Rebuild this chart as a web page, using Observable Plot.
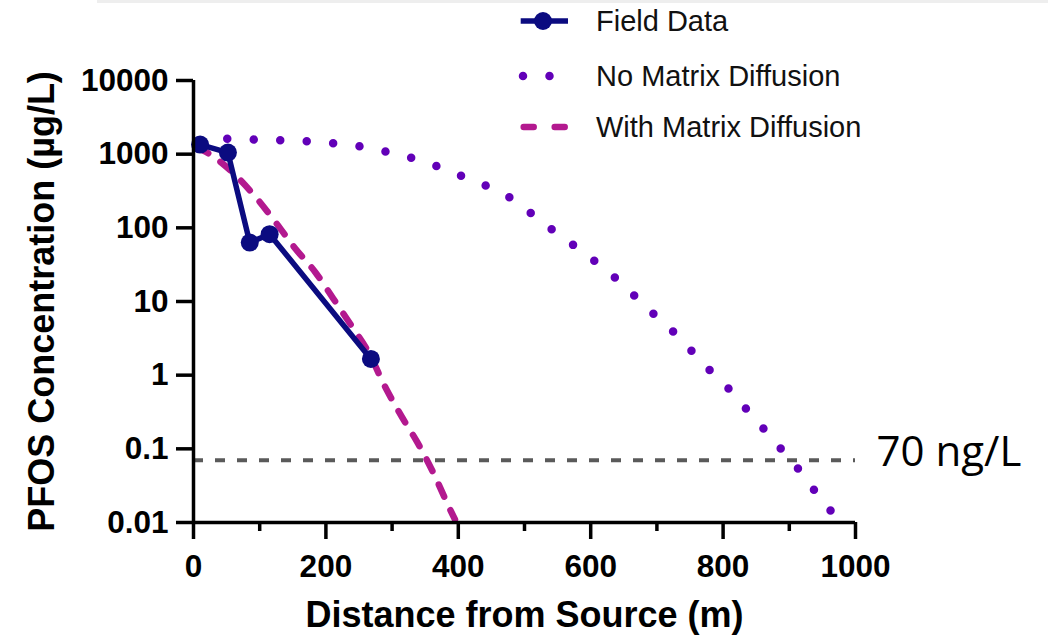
<!DOCTYPE html>
<html>
<head>
<meta charset="utf-8">
<script src="https://cdn.jsdelivr.net/npm/d3@7"></script>
<script src="https://cdn.jsdelivr.net/npm/@observablehq/plot@0.6"></script>
<style>
  body { margin: 0; background: #fff; }
  #wrap { position: relative; width: 1048px; height: 638px; overflow: hidden; font-family: "Liberation Sans", Arial, sans-serif; background:#fff; }
  #chart { position: absolute; left: 0; top: 0; }
  #topline { position: absolute; left: 97px; top: 0; width: 951px; height: 3px; background: #eeeeee; }
  #legend { position: absolute; left: 518px; top: 0; width: 400px; height: 150px; }
  .item { position: absolute; left: 0; height: 40px; display: flex; align-items: center; white-space: nowrap; font-size: 29px; color: #111; }
  .item svg { width: 56px; height: 24px; margin-right: 22px; flex: none; }
</style>
</head>
<body>
<div id="wrap">
  <div id="topline"></div>
  <div id="chart"></div>
  <div id="legend"></div>
</div>
<script>
// ---- Data ----
const fieldDistance = [10, 52, 85, 115, 268];              // m
const fieldConc     = [1350, 1050, 63, 82, 1.66];          // µg/L

const noMatrixDistance = [51, 91, 130, 170, 210, 251, 290, 329, 367, 404, 443, 476, 509, 540, 573, 605, 636, 665, 694, 724, 752, 779, 808, 834, 861, 887, 913, 937, 962, 972];
const noMatrixConc     = [1620, 1580, 1550, 1500, 1410, 1280, 1090, 890, 690, 510, 370, 264, 160, 97, 59, 36, 21.4, 12.2, 6.9, 3.95, 2.16, 1.19, 0.66, 0.356, 0.189, 0.101, 0.054, 0.028, 0.0147, 0.0112];

const withMatrixDistance = [5, 23, 56, 94, 124, 154, 184, 211, 240, 263, 290, 315, 338, 363, 386, 395];
const withMatrixConc     = [1250, 1020, 600, 261, 119, 52, 25, 11, 4.48, 2.16, 0.68, 0.269, 0.123, 0.0458, 0.0161, 0.011];

const thresholdConc  = 0.07;          // 70 ng/L
const thresholdLabel = "70 ng/L";

const yTicks      = [0.01, 0.1, 1, 10, 100, 1000, 10000];
const yTickLabels = ["0.01", "0.1", "1", "10", "100", "1000", "10000"];
const xTicks      = [0, 200, 400, 600, 800, 1000];
const xTickLabels = ["0", "200", "400", "600", "800", "1000"];
const xMinorTicks = [100, 300, 500, 700, 900];

const seriesNames = ["Field Data", "No Matrix Diffusion", "With Matrix Diffusion"];
const xLabel = "Distance from Source (m)";
const yLabel = "PFOS Concentration (µg/L)";

// ---- Styles ----
const navy = "#0b0b80", purple = "#6200b8", magenta = "#b3198f", grey = "#5a5a5a";

const field = fieldDistance.map((d, i) => ({x: d, y: fieldConc[i]}));
const noMatrix = noMatrixDistance.map((d, i) => ({x: d, y: noMatrixConc[i]}));
const withMatrix = withMatrixDistance.map((d, i) => ({x: d, y: withMatrixConc[i]}));

const bold = {fontWeight: "bold"};
const chart = Plot.plot({
  width: 1048, height: 638,
  marginLeft: 193, marginRight: 193, marginTop: 80, marginBottom: 116,
  style: {fontFamily: '"Liberation Sans", Arial, sans-serif', color: "#000", background: "transparent", overflow: "visible"},
  x: {domain: [0, 1000]},
  y: {type: "log", domain: [0.01, 10000]},
  marks: [
    Plot.ruleY([thresholdConc], {stroke: grey, strokeWidth: 4, strokeDasharray: "10 12"}),
    Plot.text([thresholdConc], {y: d => d, text: () => thresholdLabel, frameAnchor: "right", dx: 21, dy: -8,
      textAnchor: "start", lineAnchor: "middle", fontFamily: '"Open Sans", sans-serif', fontSize: 42, fill: "#000"}),
    Plot.line(noMatrix, {x: "x", y: "y", curve: "monotone-x", stroke: purple, strokeWidth: 8.5,
      strokeDasharray: "0 26.5", strokeLinecap: "round"}),
    Plot.line(withMatrix, {x: "x", y: "y", curve: "monotone-x", stroke: magenta, strokeWidth: 6.5,
      strokeDasharray: "13 15", strokeLinecap: "round"}),
    Plot.line(field, {x: "x", y: "y", stroke: navy, strokeWidth: 5.5, strokeLinejoin: "round"}),
    Plot.dot(field, {x: "x", y: "y", r: 9, fill: navy}),
    // axis lines
    Plot.ruleX([0], {stroke: "#000", strokeWidth: 3.5}),
    Plot.ruleY([0.01], {stroke: "#000", strokeWidth: 3.5}),
    // y axis
    Plot.axisY({ticks: yTicks, text: null, tickSize: 17, strokeWidth: 3.5, label: null}),
    Plot.axisY({ticks: yTicks, tickSize: 0, tickPadding: 25, tickFormat: d => yTickLabels[yTicks.indexOf(d)],
      fontSize: 31.5, ...bold, label: null}),
    // x axis
    Plot.axisX({ticks: xTicks, text: null, tickSize: 17, strokeWidth: 3.5, label: null}),
    Plot.axisX({ticks: xMinorTicks, text: null, tickSize: 9, strokeWidth: 3.5, label: null}),
    Plot.axisX({ticks: xTicks, tickSize: 0, tickPadding: 32, tickFormat: d => xTickLabels[xTicks.indexOf(d)],
      fontSize: 31.5, ...bold, label: null}),
    // axis titles
    Plot.text([xLabel], {frameAnchor: "bottom", dy: 79, lineAnchor: "top", fontSize: 36, ...bold, fill: "#000"}),
    Plot.text([yLabel], {frameAnchor: "left", dx: -165, rotate: -90, textAnchor: "middle", lineAnchor: "top", fontSize: 36, ...bold, fill: "#000"})
  ]
});
document.getElementById("chart").appendChild(chart);

// ---- Legend ----
const legendSymbols = [
  `<svg viewBox="0 0 56 24"><line x1="2.7" y1="12" x2="50" y2="12" stroke="${navy}" stroke-width="5.5"/><circle cx="25" cy="12" r="9" fill="${navy}"/></svg>`,
  `<svg viewBox="0 0 56 24"><line x1="5" y1="12" x2="32" y2="12" stroke="${purple}" stroke-width="8.5" stroke-dasharray="0 26.5" stroke-linecap="round"/></svg>`,
  `<svg viewBox="0 0 56 24"><line x1="5.7" y1="12" x2="47" y2="12" stroke="${magenta}" stroke-width="6.5" stroke-dasharray="10 21" stroke-linecap="round"/></svg>`
];
const legendCenters = [21, 76, 127];
const legend = document.getElementById("legend");
seriesNames.forEach((name, i) => {
  const div = document.createElement("div");
  div.className = "item";
  div.style.top = (legendCenters[i] - 20) + "px";
  div.innerHTML = legendSymbols[i] + `<span>${name}</span>`;
  legend.appendChild(div);
});
</script>
</body>
</html>
